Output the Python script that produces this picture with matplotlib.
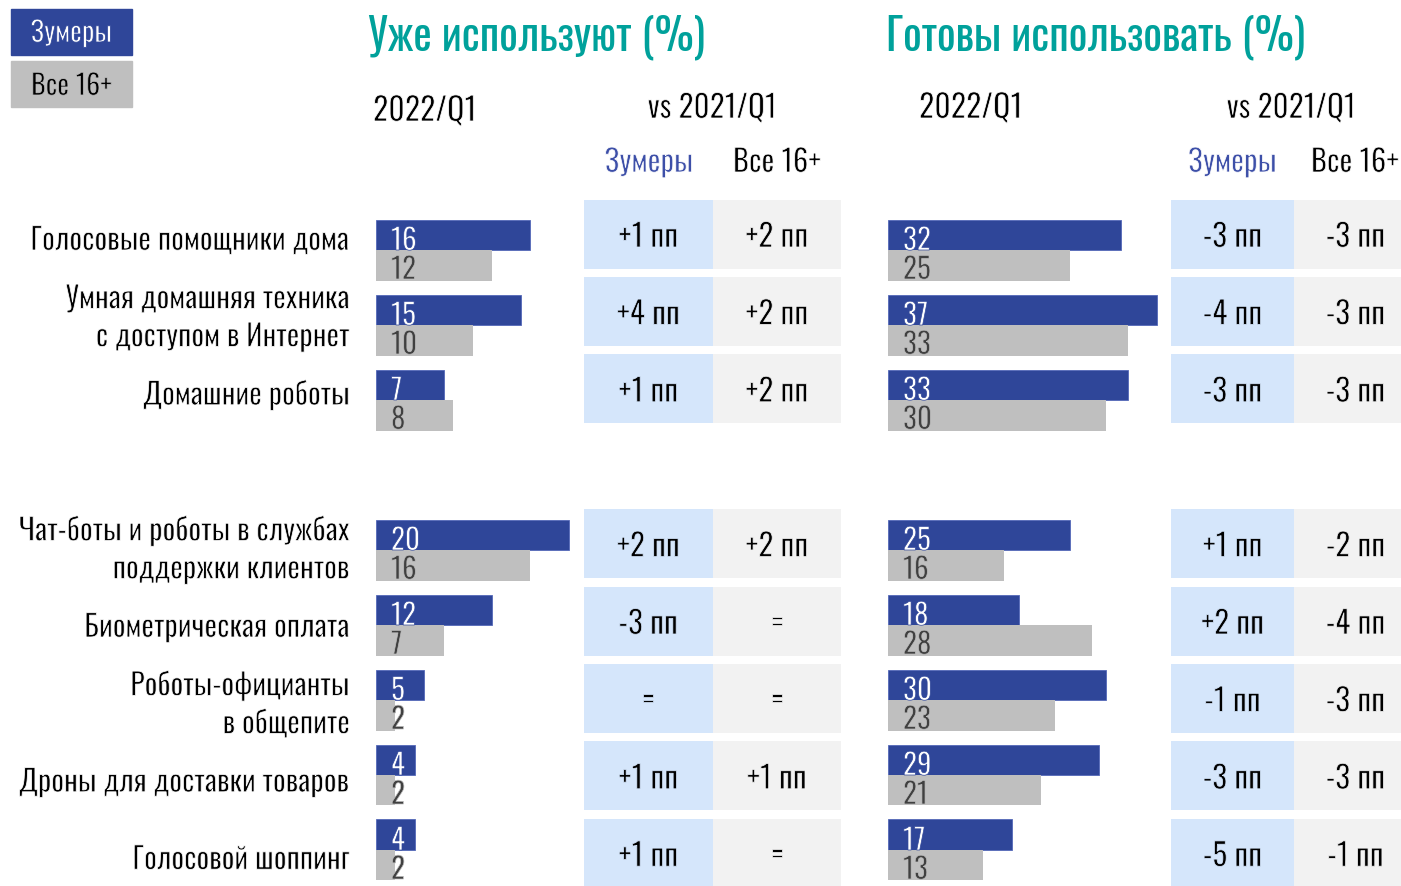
import matplotlib
matplotlib.use('Agg')
import matplotlib.pyplot as plt
from matplotlib import patheffects as pe
from matplotlib.patches import Rectangle
from matplotlib.transforms import blended_transform_factory

plt.rcParams['font.family'] = ['Oswald', 'Roboto', 'DejaVu Sans']

# ---------------------------------------------------------------------------
# Data
# ---------------------------------------------------------------------------
CATEGORIES = [
    'Голосовые помощники дома',
    'Умная домашняя техника\nс доступом в Интернет',
    'Домашние роботы',
    'Чат-боты и роботы в службах\nподдержки клиентов',
    'Биометрическая оплата',
    'Роботы-официанты\nв общепите',
    'Дроны для доставки товаров',
    'Голосовой шоппинг',
]
USE_ZOOMERS = [16, 15, 7, 20, 12, 5, 4, 4]
USE_ALL = [12, 10, 8, 16, 7, 2, 2, 2]
READY_ZOOMERS = [32, 37, 33, 25, 18, 30, 29, 17]
READY_ALL = [25, 33, 30, 16, 28, 23, 21, 13]
USE_DELTA_ZOOMERS = ['+1 пп', '+4 пп', '+1 пп', '+2 пп', '-3 пп', '=', '+1 пп', '+1 пп']
USE_DELTA_ALL = ['+2 пп', '+2 пп', '+2 пп', '+2 пп', '=', '=', '+1 пп', '=']
READY_DELTA_ZOOMERS = ['-3 пп', '-4 пп', '-3 пп', '+1 пп', '+2 пп', '-1 пп', '-3 пп', '-5 пп']
READY_DELTA_ALL = ['-3 пп', '-3 пп', '-3 пп', '-2 пп', '-4 пп', '-3 пп', '-3 пп', '-1 пп']

# row slots: two groups with an empty gap between them
ROWS = [0, 1, 2, 4, 5, 6, 7, 8]

BLUE = '#2F4699'
GREY = '#BFBFBF'
CELL_BLUE = '#D5E6FB'
CELL_GREY = '#F2F2F2'
TEAL = '#00A19B'
HEAD_BLUE = '#3D4FA8'

W, H = 1401, 887
fig = plt.figure(figsize=(W / 100, H / 100), dpi=100)
fig.patch.set_facecolor('white')


def thin(bg='white', lw=0.55):
    # only a regular Oswald is available; eat into the glyph edge
    # with the background colour to get a lighter stroke
    return [pe.Stroke(linewidth=lw, foreground=bg)]


def px_axes(x0, y0, x1, y1):
    """axes placed by pixel box (top-left origin)"""
    ax = fig.add_axes([x0 / W, 1 - y1 / H, (x1 - x0) / W, (y1 - y0) / H])
    ax.axis('off')
    return ax


def ftext(x, y, s, bg='white', **kw):
    if bg is not None:
        kw['path_effects'] = thin(bg)
    fig.text(x / W, 1 - y / H, s, **kw)


# ---------------------------------------------------------------------------
# Bars
# ---------------------------------------------------------------------------
BAR_ROW = 75.0      # px per row in bar panels
BAR_TOP = 251.0     # px of first row boundary
BAR_H = 30.5 / BAR_ROW
NUM_FS = 21


def bar_panel(x0, px_per_unit, zoomers, allp):
    ax = px_axes(x0, 0, x0 + 300, H)
    ax.set_xlim(0, 300 / px_per_unit)
    ax.set_ylim((H - BAR_TOP) / BAR_ROW, -BAR_TOP / BAR_ROW)
    yb = [r - BAR_H / 2 for r in ROWS]
    yg = [r + BAR_H / 2 for r in ROWS]
    ax.barh(yb, zoomers, height=BAR_H, color=BLUE, edgecolor='#5468B8', linewidth=0.6)
    ax.barh(yg, allp, height=BAR_H, color=GREY, edgecolor='none')
    off = 15 / px_per_unit
    for r, z, a in zip(ROWS, zoomers, allp):
        ax.text(off, r, str(z), color='white', fontsize=NUM_FS, va='baseline',
                ha='left', path_effects=thin(BLUE, 0.5))
        ax.text(off, r + BAR_H - 1.5 / BAR_ROW, str(a), color='#404040',
                fontsize=NUM_FS, va='baseline', ha='left',
                path_effects=thin(GREY, 0.5))
    return ax


bar_panel(376, 9.65, USE_ZOOMERS, USE_ALL)
bar_panel(888, 7.28, READY_ZOOMERS, READY_ALL)

# ---------------------------------------------------------------------------
# Change tables
# ---------------------------------------------------------------------------
TAB_ROW = 77.4
TAB_TOP = 235.0
CELL_H = 69 / TAB_ROW
CELL_FS = 22.5


def table_panel(x0, col_w, x_end, d_zoom, d_all):
    ax = px_axes(x0, 0, x_end, H)
    ax.set_xlim(0, (x_end - x0) / col_w)
    ax.set_ylim((H - TAB_TOP) / TAB_ROW, -TAB_TOP / TAB_ROW)
    ax.barh(ROWS, [1] * len(ROWS), left=0, height=CELL_H, color=CELL_BLUE)
    ax.barh(ROWS, [1] * len(ROWS), left=1, height=CELL_H, color=CELL_GREY)
    for r, a, b in zip(ROWS, d_zoom, d_all):
        ax.text(0.5, r + 13 / TAB_ROW, a, ha='center', va='baseline',
                fontsize=CELL_FS, path_effects=thin(CELL_BLUE))
        ax.text(1.5, r + 13 / TAB_ROW, b, ha='center', va='baseline',
                fontsize=CELL_FS, path_effects=thin(CELL_GREY))
    return ax


ax_tab = table_panel(584, 128.5, 841, USE_DELTA_ZOOMERS, USE_DELTA_ALL)
table_panel(1171, 123, W, READY_DELTA_ZOOMERS, READY_DELTA_ALL)

# category labels, right-aligned against the bars
tr = blended_transform_factory(fig.transFigure, ax_tab.transData)
for r, label in zip(ROWS, CATEGORIES):
    lines = label.split('\n')
    n = len(lines)
    for k, line in enumerate(lines):
        dy = 16 + 38 * (k - (n - 1) / 2)
        ax_tab.text(350 / W, r + dy / TAB_ROW, line, transform=tr,
                    ha='right', va='baseline', fontsize=21.6,
                    path_effects=thin())

# ---------------------------------------------------------------------------
# Headers and legend
# ---------------------------------------------------------------------------
ftext(368, 50, 'Уже используют (%)', bg=None, color=TEAL, fontsize=31.6,
      ha='left', va='baseline')
ftext(886, 50, 'Готовы использовать (%)', bg=None, color=TEAL, fontsize=31.6,
      ha='left', va='baseline')

ftext(373, 122, '2022/Q1', fontsize=23, ha='left', va='baseline')
ftext(712, 119, 'vs 2021/Q1', fontsize=22.5, ha='center', va='baseline')
ftext(649, 173, 'Зумеры', fontsize=22, color=HEAD_BLUE, ha='center', va='baseline')
ftext(777, 173, 'Все 16+', fontsize=22, ha='center', va='baseline')

ftext(919, 119, '2022/Q1', fontsize=23, ha='left', va='baseline')
ftext(1291, 119, 'vs 2021/Q1', fontsize=22.5, ha='center', va='baseline')
ftext(1232.5, 173, 'Зумеры', fontsize=22, color=HEAD_BLUE, ha='center', va='baseline')
ftext(1355, 173, 'Все 16+', fontsize=22, ha='center', va='baseline')

for y0, colr, txt, tc, base in [(10, BLUE, 'Зумеры', 'white', 43),
                                 (62, GREY, 'Все 16+', 'black', 96)]:
    fig.patches.append(Rectangle((11 / W, 1 - (y0 + 46) / H), 121 / W, 46 / H,
                                 transform=fig.transFigure, color=colr))
    ftext(71.5, base, txt, bg=colr, color=tc, fontsize=20.2, ha='center',
          va='baseline')

fig.savefig('out.png', dpi=100)
